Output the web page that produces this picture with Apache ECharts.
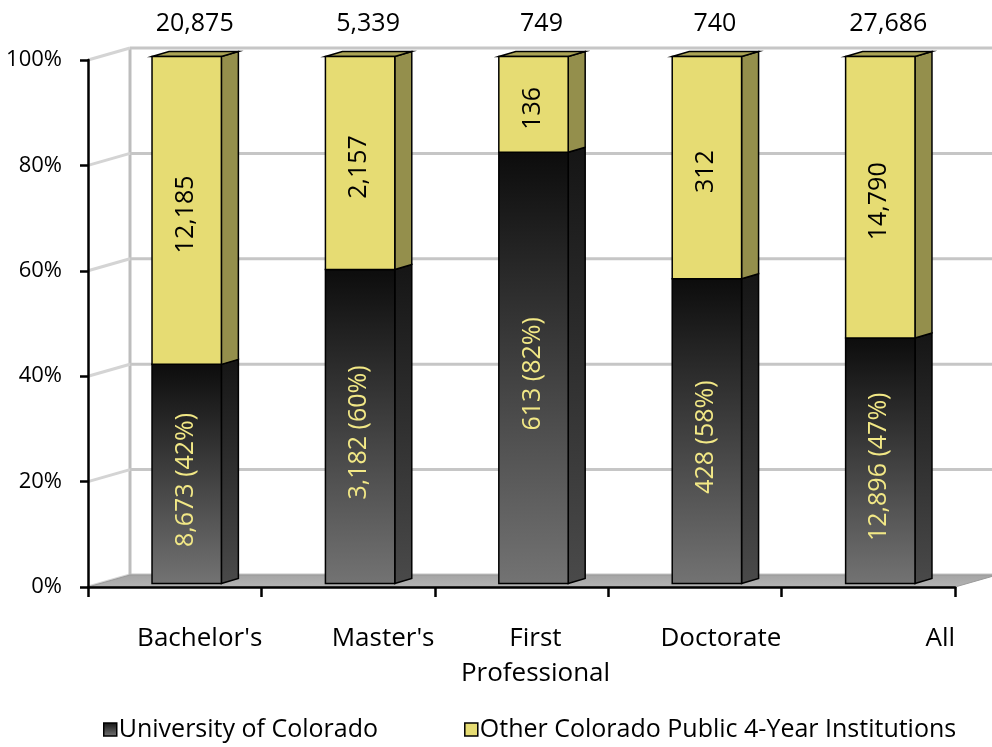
<!DOCTYPE html>
<html><head><meta charset="utf-8">
<script src="https://cdn.jsdelivr.net/npm/echarts@6/dist/echarts.min.js"></script>
<style>html,body{margin:0;padding:0;background:#fff}#c{width:992px;height:747px}</style>
</head><body><div id="c"></div>
<script>
const categories = ["Bachelor's", "Master's", "First\nProfessional", "Doctorate", "All"];
const ucValues = [8673, 3182, 613, 428, 12896];
const otherValues = [12185, 2157, 136, 312, 14790];
const totals = [20875, 5339, 749, 740, 27686];
const yTicks = [0, 20, 40, 60, 80, 100];

const FONT = '"Open Sans", sans-serif';
const fmt = n => n.toLocaleString('en-US');
const G = echarts.graphic;

const ucData = [], otherData = [], totalData = [];
categories.forEach((c, i) => {
  const s = ucValues[i] + otherValues[i];
  const p = ucValues[i] / s * 100;
  ucData.push([i, 0, p, ucValues[i], Math.round(ucValues[i] / totals[i] * 100)]);
  otherData.push([i, p, 100, otherValues[i], 0]);
  totalData.push([i, 100, totals[i]]);
});

// pseudo 3-D geometry (pixels)
const DEPTH_X = 42, DEPTH_Y = -12;        // full depth of box
const FRONT_X = 12, FRONT_Y = -3.5;        // bar front face offset
const BAR_DX = 17, BAR_DY = -5;            // bar depth

function barRender(isTop) {
  return function (params, api) {
    const idx = api.value(0), s = api.value(1), e = api.value(2);
    const pb = api.coord([idx, s]), pt = api.coord([idx, e]);
    const band = api.size([1, 0])[0];
    const w = band * 0.4;
    const cx = pb[0] + FRONT_X;
    const x0 = cx - w / 2, x1 = cx + w / 2;
    const yb = pb[1] + FRONT_Y, yt = pt[1] + FRONT_Y;
    const children = [];
    const frontFill = isTop ? '#E6DC73' : new G.LinearGradient(0, 0, 0, 1, [
      {offset: 0, color: '#0c0c0c'}, {offset: 1, color: '#737373'}]);
    const sideFill = isTop ? '#948F4C' : new G.LinearGradient(0, 0, 0, 1, [
      {offset: 0, color: '#151515'}, {offset: 1, color: '#4a4a4a'}]);
    children.push({type: 'polygon', shape: {points: [[x1, yb], [x1 + BAR_DX, yb + BAR_DY], [x1 + BAR_DX, yt + BAR_DY], [x1, yt]]},
      style: {fill: sideFill, stroke: '#000', lineWidth: 1.5}});
    if (isTop) {
      children.push({type: 'polygon', shape: {points: [[x0, yt], [x0 + BAR_DX, yt + BAR_DY], [x1 + BAR_DX, yt + BAR_DY], [x1, yt]]},
        style: {fill: '#ABA456', stroke: '#000', lineWidth: 1.5}});
    }
    children.push({type: 'rect', shape: {x: x0, y: yt, width: w, height: yb - yt},
      style: {fill: frontFill, stroke: '#000', lineWidth: 1.5}});
    const count = api.value(3);
    const label = isTop ? fmt(count) : fmt(count) + ' (' + api.value(4) + '%)';
    children.push({type: 'text', x: cx - 1, y: (yt + yb) / 2 + (isTop ? 4 : 6), rotation: Math.PI / 2,
      style: {text: label, fill: isTop ? '#000' : '#F2E886', font: '25px ' + FONT, align: 'center', verticalAlign: 'middle'}});
    return {type: 'group', children};
  };
}

const LBL = {fontSize: 26, fontFamily: FONT, lineHeight: 35, color: '#000'};
const option = {
  backgroundColor: '#fff',
  animation: false,
  grid: {left: 88, right: 37, top: 60, bottom: 160},
  legend: {
    top: 712, left: 98, itemWidth: 13, itemHeight: 13, itemGap: 86, icon: 'rect',
    itemStyle: {borderColor: '#000', borderWidth: 1.5},
    textStyle: {fontSize: 25, fontFamily: FONT, color: '#000', padding: [0, 0, 0, -3]},
    data: ['University of Colorado', 'Other Colorado Public 4-Year Institutions']
  },
  xAxis: {
    type: 'category', data: categories, z: 10,
    axisLine: {lineStyle: {color: '#000', width: 2.5}},
    axisTick: {show: true, interval: 0, length: 10, lineStyle: {color: '#000', width: 2.5}},
    axisLabel: {
      interval: 0, hideOverlap: false,
      margin: 34, color: '#000', fontSize: 26, fontFamily: FONT, lineHeight: 35,
      formatter: (v, i) => v.split('\n').map(t => '{c' + i + '|' + t + '}').join('\n'),
      rich: {
        c0: Object.assign({padding: [0, 0, 0, 50]}, LBL),
        c1: Object.assign({padding: [0, 0, 0, 70]}, LBL),
        c2: Object.assign({padding: [0, 0, 0, 28]}, LBL),
        c3: Object.assign({padding: [0, 0, 0, 52]}, LBL),
        c4: Object.assign({padding: [0, 0, 0, 144]}, LBL)
      }
    },
    splitLine: {show: false}
  },
  yAxis: {
    type: 'value', min: 0, max: 100, interval: 20, z: 10,
    axisLine: {show: true, lineStyle: {color: '#000', width: 2.5}},
    axisTick: {show: true, inside: false, length: 8, lineStyle: {color: '#000', width: 2.5}},
    axisLabel: {formatter: '{value}%', margin: 26, color: '#000', fontSize: 22, fontFamily: FONT},
    splitLine: {show: false}
  },
  series: [
    {
      type: 'custom', name: 'walls', z: 1, silent: true,
      data: yTicks.map(v => [0, v]),
      renderItem: (params, api) => {
        const cs = params.coordSys;
        const y = api.coord([0, api.value(1)])[1];
        const children = [
          {type: 'line', shape: {x1: cs.x, y1: y, x2: cs.x + DEPTH_X, y2: y + DEPTH_Y}, style: {stroke: '#d4d4d4', lineWidth: 3}},
          {type: 'line', shape: {x1: cs.x + DEPTH_X, y1: y + DEPTH_Y, x2: 992, y2: y + DEPTH_Y}, style: {stroke: '#c6c6c6', lineWidth: 3}}
        ];
        if (params.dataIndex === 0) {
          const yTop = api.coord([0, 100])[1];
          children.push({type: 'line', shape: {x1: cs.x + DEPTH_X, y1: y + DEPTH_Y, x2: cs.x + DEPTH_X, y2: yTop + DEPTH_Y}, style: {stroke: '#bdbdbd', lineWidth: 3}});
          children.push({type: 'polygon', shape: {points: [[cs.x, y], [cs.x + cs.width, y], [cs.x + cs.width + DEPTH_X, y + DEPTH_Y], [cs.x + DEPTH_X, y + DEPTH_Y]]},
            style: {fill: new G.LinearGradient(0, 0, 0, 1, [{offset: 0, color: '#a4a4a4'}, {offset: 1, color: '#b4b4b4'}]), stroke: '#9a9a9a', lineWidth: 1}});
        }
        return {type: 'group', children};
      }
    },
    {
      type: 'custom', name: 'University of Colorado', z: 3,
      itemStyle: {color: new G.LinearGradient(0, 0, 0, 1, [{offset: 0, color: '#111'}, {offset: 1, color: '#777'}])},
      data: ucData, renderItem: barRender(false)
    },
    {
      type: 'custom', name: 'Other Colorado Public 4-Year Institutions', z: 3,
      itemStyle: {color: '#E6DC73'},
      data: otherData, renderItem: barRender(true)
    },
    {
      type: 'custom', name: 'totals', z: 4, silent: true,
      data: totalData,
      renderItem: (params, api) => {
        const p = api.coord([api.value(0), api.value(1)]);
        return {type: 'text', x: p[0] + FRONT_X + 8, y: p[1] - 36,
          style: {text: fmt(api.value(2)), fill: '#000', font: '25px ' + FONT, align: 'center', verticalAlign: 'middle'}};
      }
    }
  ]
};
const chart = echarts.init(document.getElementById('c'), null, {renderer: 'canvas'});
chart.setOption(option);
</script></body></html>
